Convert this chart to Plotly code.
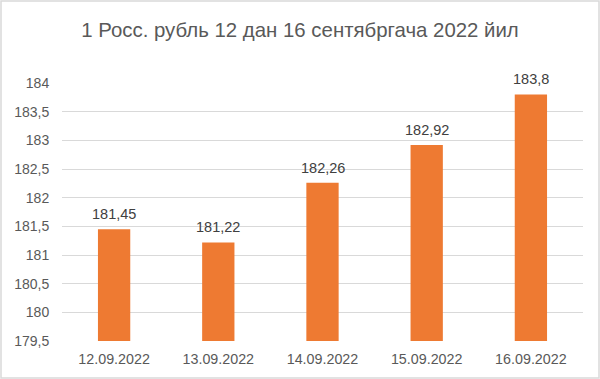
import plotly.graph_objects as go

dates = ["12.09.2022", "13.09.2022", "14.09.2022", "15.09.2022", "16.09.2022"]
rates = [181.45, 181.22, 182.26, 182.92, 183.8]
y_ticks = [179.5, 180, 180.5, 181, 181.5, 182, 182.5, 183, 183.5, 184]
title_text = "1 Росс. рубль 12 дан 16 сентябргача 2022 йил"
axis_min = 179.5

font_family = "Liberation Sans, Arial, sans-serif"

fig = go.Figure(go.Bar(
    x=dates, y=[v - axis_min for v in rates],
    base=axis_min,
    marker=dict(color="#EE7A32", line=dict(width=0)),
    hoverinfo="skip",
))

for d, v in zip(dates, rates):
    fig.add_annotation(x=d, y=v, text=str(v).replace(".", ","), showarrow=False,
                       yanchor="bottom", yshift=5,
                       font=dict(size=14.5, color="#404040", family=font_family))

L, R, T, B = 62, 17, 83, 38
W, H = 600, 379
pw, ph = W - L - R, H - T - B

fig.update_layout(
    width=W, height=H,
    margin=dict(l=L, r=R, t=T, b=B),
    paper_bgcolor="white", plot_bgcolor="white",
    bargap=0.69,
    showlegend=False,
    title=dict(text=title_text, x=0.5, xanchor="center", y=1 - 30 / H, yanchor="middle",
               font=dict(size=20.4, color="#595959", family=font_family)),
    font=dict(family=font_family, color="#595959"),
    xaxis=dict(showgrid=False, showline=False, zeroline=False,
               ticks="outside", ticklen=5, tickcolor="rgba(0,0,0,0)",
               tickfont=dict(size=14.3, color="#595959")),
    yaxis=dict(range=[axis_min, 184], tickvals=y_ticks,
               ticktext=[str(v).replace(".", ",") if v % 1 else str(int(v)) for v in y_ticks],
               showgrid=True, gridcolor="#D9D9D9", gridwidth=1, zeroline=False, showline=False,
               ticks="outside", ticklen=9, tickcolor="rgba(0,0,0,0)",
               tickfont=dict(size=14, color="#595959")),
    shapes=[dict(type="rect", xref="paper", yref="paper",
                 x0=(-L + 1) / pw, x1=1 + (R - 1) / pw,
                 y0=(-B + 1) / ph, y1=1 + (T - 1) / ph,
                 line=dict(color="#D9D9D9", width=1.5), layer="below")],
)

fig.write_html("out.html")
